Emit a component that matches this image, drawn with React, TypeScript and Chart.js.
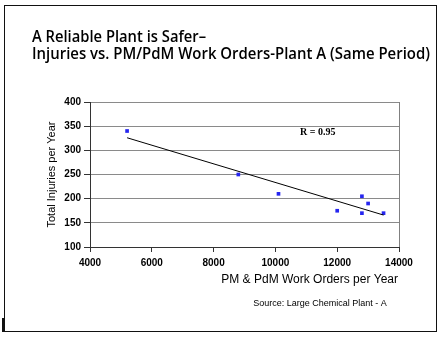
import React, { useEffect, useRef } from "react";
import { Chart, registerables } from "chart.js";

Chart.register(...registerables);

const workOrders = [5200, 8800, 10100, 12000, 12800, 12800, 13000, 13500];
const injuries = [340, 250, 210, 175, 205, 170, 190, 170];
const xRange = [4000, 14000];
const xStep = 2000;
const yRange = [100, 400];
const yStep = 50;
const titleLines = [
  "A Reliable Plant is Safer–",
  "Injuries vs. PM/PdM Work Orders-Plant A (Same Period)",
];
const xTitle = "PM & PdM Work Orders per Year";
const yTitle = "Total Injuries per Year";
const sourceText = "Source: Large Chemical Plant - A";
const rLabel = "R = 0.95";
const rLabelAt = { x: 10800, y: 338 };

function regression(xs: number[], ys: number[]) {
  const n = xs.length;
  const mx = xs.reduce((a, b) => a + b, 0) / n;
  const my = ys.reduce((a, b) => a + b, 0) / n;
  let sxy = 0;
  let sxx = 0;
  for (let i = 0; i < n; i++) {
    sxy += (xs[i] - mx) * (ys[i] - my);
    sxx += (xs[i] - mx) * (xs[i] - mx);
  }
  const slope = sxy / sxx;
  return { slope, intercept: my - slope * mx };
}

const SANS = '"Liberation Sans", Arial, sans-serif';

export default function App() {
  const ref = useRef<HTMLCanvasElement | null>(null);
  useEffect(() => {
    if (!ref.current) return;
    const reg = regression(workOrders, injuries);
    const xMin = Math.min(...workOrders);
    const xMax = Math.max(...workOrders);
    const trend = [
      { x: xMin, y: reg.intercept + reg.slope * xMin },
      { x: xMax, y: reg.intercept + reg.slope * xMax },
    ];
    const points = workOrders.map((x, i) => ({ x, y: injuries[i] }));

    const decor = {
      id: "decor",
      afterDraw(chart: any) {
        const ctx = chart.ctx as CanvasRenderingContext2D;
        const { chartArea, scales } = chart;
        ctx.save();
        // frame
        ctx.strokeStyle = "#111";
        ctx.lineWidth = 1;
        ctx.strokeRect(4.5, 5.5, 432, 326);
        ctx.fillStyle = "#111";
        ctx.fillRect(2, 318, 3, 14);
        // title
        ctx.fillStyle = "#000";
        ctx.textAlign = "left";
        ctx.textBaseline = "alphabetic";
        ctx.font = '600 16.5px "Open Sans", sans-serif';
        ctx.fillText(titleLines[0], 32, 42, 174);
        ctx.fillText(titleLines[1], 32, 59, 398);
        // R label
        ctx.font = 'bold 10px "Liberation Serif", "Times New Roman", serif';
        ctx.textBaseline = "middle";
        ctx.fillText(
          rLabel,
          scales.x.getPixelForValue(rLabelAt.x),
          scales.y.getPixelForValue(rLabelAt.y)
        );
        // x title
        ctx.font = "12px " + SANS;
        ctx.textAlign = "right";
        ctx.fillText(xTitle, chartArea.right - 1, 280);
        // source
        ctx.font = "9px " + SANS;
        ctx.textAlign = "center";
        ctx.fillText(sourceText, 320, 304);
        // y title
        ctx.translate(52, (chartArea.top + chartArea.bottom) / 2);
        ctx.rotate(-Math.PI / 2);
        ctx.font = "11px " + SANS;
        ctx.textAlign = "center";
        ctx.fillText(yTitle, 0, 0);
        ctx.restore();
      },
    };

    const chart = new Chart(ref.current, {
      type: "scatter",
      data: {
        datasets: [
          {
            type: "line",
            data: trend,
            borderColor: "#000",
            borderWidth: 1,
            pointRadius: 0,
            fill: false,
          } as any,
          {
            data: points,
            pointStyle: "rect",
            pointRadius: 2.6,
            pointBackgroundColor: "#2626f0",
            pointBorderWidth: 0,
            showLine: false,
          },
        ],
      },
      options: {
        animation: false,
        responsive: false,
        devicePixelRatio: 1,
        layout: { padding: { top: 102, right: 44, left: 0, bottom: 0 } },
        plugins: {
          legend: { display: false },
          tooltip: { enabled: false },
          title: { display: false },
        },
        scales: {
          x: {
            type: "linear",
            min: xRange[0],
            max: xRange[1],
            afterFit: (s: any) => {
              s.height = 90;
            },
            ticks: {
              stepSize: xStep,
              color: "#000",
              padding: 5,
              font: { family: SANS, size: 10, weight: "bold" },
              callback: (v: any) => String(v),
            },
            grid: {
              color: (c: any) =>
                c.tick && c.tick.value === xRange[1] ? "#808080" : "rgba(0,0,0,0)",
              tickColor: "#333",
              tickLength: 5,
            },
            border: { color: "#333", width: 1 },
          },
          y: {
            type: "linear",
            min: yRange[0],
            max: yRange[1],
            afterFit: (s: any) => {
              s.width = 90;
            },
            ticks: {
              stepSize: yStep,
              color: "#000",
              padding: 3,
              font: { family: SANS, size: 10, weight: "bold" },
              callback: (v: any) => String(v),
            },
            grid: {
              color: "#8a8a8a",
              tickColor: "#333",
              tickLength: 6,
            },
            border: { color: "#333", width: 1 },
          },
        },
      },
      plugins: [decor],
    });
    return () => chart.destroy();
  }, []);
  return (
    <div style={{ position: "absolute", left: 0, top: 0, width: 443, height: 337, background: "#fff" }}>
      <canvas ref={ref} width={443} height={337} style={{ width: 443, height: 337, display: "block" }} />
    </div>
  );
}
